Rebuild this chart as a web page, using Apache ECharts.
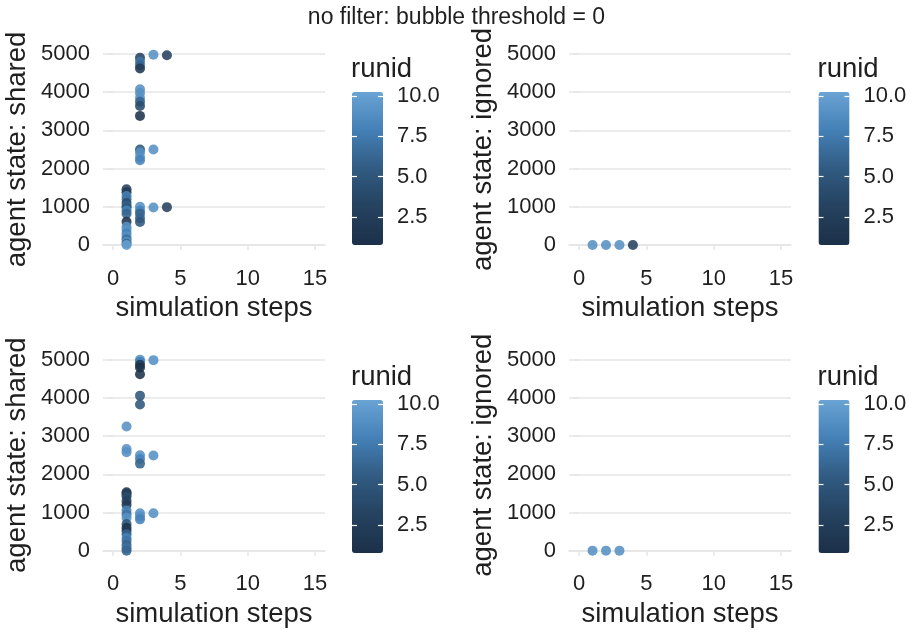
<!DOCTYPE html>
<html>
<head>
<meta charset="utf-8">
<script src="https://cdn.jsdelivr.net/npm/echarts@6/dist/echarts.min.js"></script>
<style>
  html, body { margin: 0; padding: 0; background: #fff; }
  #chart { width: 913px; height: 632px; }
</style>
</head>
<body>
<div id="chart"></div>
<script>
var stepTicks = [0, 5, 10, 15];
var stateTicks = [0, 1000, 2000, 3000, 4000, 5000];
var runidTicks = [2.5, 5, 7.5, 10];

// [simulation step, agents in state, runid]
var sharedTop = [
  [1, 1460, 3], [1, 1380, 2], [1, 1280, 8], [1, 1200, 7], [1, 1100, 4], [1, 1020, 6],
  [1, 980, 5], [1, 900, 8], [1, 820, 6], [1, 610, 1], [1, 480, 9], [1, 400, 9],
  [1, 300, 8], [1, 220, 9], [1, 150, 7], [1, 80, 9], [1, 30, 6], [1, 0, 10],
  [2, 4900, 3], [2, 4800, 7], [2, 4700, 6], [2, 4620, 2], [2, 4080, 9], [2, 3980, 9],
  [2, 3850, 9], [2, 3750, 6], [2, 3640, 4], [2, 3380, 1], [2, 2500, 5], [2, 2420, 9],
  [2, 2300, 9], [2, 2220, 8], [2, 1000, 9], [2, 900, 8], [2, 820, 6], [2, 700, 6], [2, 600, 5],
  [3, 4980, 9], [3, 2500, 9], [3, 980, 9],
  [4, 4970, 3], [4, 990, 3]
];
var ignoredTop = [[1, 0, 9], [2, 0, 9], [3, 0, 9], [4, 0, 3]];
var sharedBottom = [
  [1, 3250, 9], [1, 2660, 9], [1, 2580, 9], [1, 1530, 1], [1, 1480, 2], [1, 1420, 4],
  [1, 1300, 3], [1, 1200, 2], [1, 1050, 8], [1, 950, 7], [1, 860, 9], [1, 700, 5],
  [1, 600, 1], [1, 520, 2], [1, 430, 6], [1, 330, 8], [1, 250, 7], [1, 150, 6],
  [1, 60, 7], [1, 0, 6],
  [2, 5000, 9], [2, 4950, 8], [2, 4870, 2], [2, 4800, 1], [2, 4620, 1], [2, 4060, 5],
  [2, 3830, 5], [2, 2500, 9], [2, 2400, 8], [2, 2280, 6], [2, 980, 9], [2, 900, 9], [2, 820, 8],
  [3, 4990, 9], [3, 2490, 9], [3, 980, 9]
];
var ignoredBottom = [[1, 0, 9], [2, 0, 9], [3, 0, 9]];

var font = 'Liberation Sans';
var ink = '#1f1f1f';
var gridGray = '#e6e6e6';
var rampColors = ['#1c3049', '#25425f', '#315b82', '#4480b6', '#6aa3d4'];

var panels = [
  { left: 103, top: 44.5, name: 'agent state: shared', data: sharedTop, barLeft: 352, barTop: 92 },
  { left: 569, top: 44.5, name: 'agent state: ignored', data: ignoredTop, barLeft: 818.5, barTop: 92 },
  { left: 103, top: 350.2, name: 'agent state: shared', data: sharedBottom, barLeft: 352, barTop: 400 },
  { left: 569, top: 350.2, name: 'agent state: ignored', data: ignoredBottom, barLeft: 818.5, barTop: 400 }
];

var grids = [], xAxes = [], yAxes = [], series = [], visualMaps = [];
var titles = [{
  text: 'no filter: bubble threshold = 0', left: 'center', top: 6, padding: 0,
  textStyle: { fontFamily: font, fontSize: 23, fontWeight: 'normal', color: ink }
}];

panels.forEach(function (p, i) {
  grids.push({ left: p.left, top: p.top, width: 222, height: 210 });
  xAxes.push({
    gridIndex: i, type: 'value', min: -0.75, max: 15.75,
    axisLine: { show: true, lineStyle: { color: gridGray, width: 1.6 } },
    axisTick: { show: true, length: 5, customValues: stepTicks, lineStyle: { color: gridGray, width: 1.6 } },
    axisLabel: { customValues: stepTicks, margin: 13, fontSize: 22, color: ink, fontFamily: font },
    splitLine: { show: false },
    name: 'simulation steps', nameLocation: 'middle', nameGap: 40,
    nameTextStyle: { fontSize: 27.5, color: ink, fontFamily: font }
  });
  yAxes.push({
    gridIndex: i, type: 'value', min: -250, max: 5250,
    axisLine: { show: false },
    axisTick: { show: true, length: 6, customValues: stateTicks, lineStyle: { color: gridGray, width: 1.6 } },
    axisLabel: {
      customValues: stateTicks, margin: 13, fontSize: 22, color: ink, fontFamily: font,
      formatter: function (v) { return String(v); }
    },
    splitLine: { show: false },
    name: p.name, nameLocation: 'middle', nameGap: 72,
    nameTextStyle: { fontSize: 27.5, color: ink, fontFamily: font }
  });
  series.push({
    type: 'scatter', xAxisIndex: i, yAxisIndex: i,
    symbolSize: 10, itemStyle: { opacity: 0.88 },
    data: p.data,
    markLine: {
      z: 1, silent: true, symbol: 'none', animation: false,
      label: { show: false },
      lineStyle: { color: gridGray, width: 1.6, type: 'solid' },
      emphasis: { disabled: true },
      data: stateTicks.map(function (v) { return { yAxis: v }; })
    }
  });
  visualMaps.push({
    type: 'continuous', seriesIndex: i, dimension: 2,
    min: 0.763, max: 10.237, orient: 'vertical',
    left: p.barLeft, top: p.barTop, itemWidth: 31, itemHeight: 153,
    padding: 0, calculable: false, hoverLink: false,
    inRange: { color: rampColors }
  });
  titles.push({
    text: 'runid', left: p.barLeft - 1, top: p.barTop - 37, padding: 0,
    textStyle: { fontFamily: font, fontSize: 27.5, fontWeight: 'normal', color: ink }
  });
});

// colorbar ticks and labels
panels.forEach(function (p) {
  var g = grids.length;
  grids.push({ left: p.barLeft, top: p.barTop, width: 31, height: 153 });
  xAxes.push({ gridIndex: g, type: 'value', show: false });
  ['left', 'right'].forEach(function (pos) {
    yAxes.push({
      gridIndex: g, type: 'value', min: 0.763, max: 10.237, position: pos, z: 10,
      axisLine: { show: false },
      axisTick: { show: true, inside: true, length: 5, customValues: runidTicks, lineStyle: { color: '#ffffff', width: 1.2 } },
      axisLabel: {
        show: pos === 'right', customValues: runidTicks, margin: 14,
        fontSize: 22, color: ink, fontFamily: font,
        formatter: function (v) { return v.toFixed(1); }
      },
      splitLine: { show: false }
    });
  });
});

var chart = echarts.init(document.getElementById('chart'));
chart.setOption({
  animation: false,
  backgroundColor: '#fff',
  title: titles,
  grid: grids,
  xAxis: xAxes,
  yAxis: yAxes,
  visualMap: visualMaps,
  series: series
});
</script>
</body>
</html>
